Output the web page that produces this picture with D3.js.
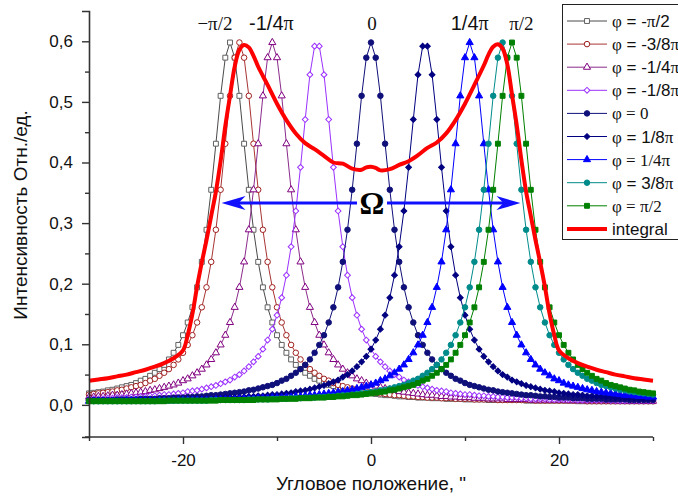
<!DOCTYPE html>
<html><head><meta charset="utf-8">
<script src="https://cdn.jsdelivr.net/npm/d3@7"></script>
<style>body{margin:0;background:#fff}svg{display:block}</style>
</head><body><svg id="c" width="678" height="497"></svg>
<script>
const xs = [-30,-29.5,-29,-28.5,-28,-27.5,-27,-26.5,-26,-25.5,-25,-24.5,-24,-23.5,-23,-22.5,-22,-21.5,-21,-20.5,-20,-19.5,-19,-18.5,-18,-17.5,-17,-16.5,-16,-15.5,-15,-14.5,-14,-13.5,-13,-12.5,-12,-11.5,-11,-10.5,-10,-9.5,-9,-8.5,-8,-7.5,-7,-6.5,-6,-5.5,-5,-4.5,-4,-3.5,-3,-2.5,-2,-1.5,-1,-0.5,0,0.5,1,1.5,2,2.5,3,3.5,4,4.5,5,5.5,6,6.5,7,7.5,8,8.5,9,9.5,10,10.5,11,11.5,12,12.5,13,13.5,14,14.5,15,15.5,16,16.5,17,17.5,18,18.5,19,19.5,20,20.5,21,21.5,22,22.5,23,23.5,24,24.5,25,25.5,26,26.5,27,27.5,28,28.5,29,29.5,30];

const phiM12 = [.019,.020,.021,.022,.024,.025,.027,.029,.031,.033,
.036,.040,.043,.048,.053,.059,.066,.075,.086,.099,
.115,.136,.161,.194,.236,.289,.355,.431,.510,.573,
.598,
.573,.510,.431,.355,.289,.236,.194,.161,.136,.115,
.099,.086,.075,.066,.059,.053,.048,.043,.040,.036,
.033,.031,.029,.027,.025,.024,.022,.021,.020,.019,
.018,.017,.016,.016,.015,.014,.014,.013,.013,.012,
.012,.012,.011,.011,.011,.010,.010,.010,.010,.009,
.009,.009,.009,.009,.008,.008,.008,.008,.008,.008,
.008,.008,.007,.007,.007,.007,.007,.007,.007,.007,
.007,.007,.007,.006,.006,.006,.006,.006,.006,.006,
.006,.006,.006,.006,.006,.006,.006,.006,.006,.006];

const phiM38 = [.017,.018,
.019,.020,.021,.022,.024,.025,.027,.029,.031,.033,
.036,.040,.043,.048,.053,.059,.066,.075,.086,.099,
.115,.136,.161,.194,.236,.289,.355,.431,.510,.573,
.598,
.573,.510,.431,.355,.289,.236,.194,.161,.136,.115,
.099,.086,.075,.066,.059,.053,.048,.043,.040,.036,
.033,.031,.029,.027,.025,.024,.022,.021,.020,.019,
.018,.017,.016,.016,.015,.014,.014,.013,.013,.012,
.012,.012,.011,.011,.011,.010,.010,.010,.010,.009,
.009,.009,.009,.009,.008,.008,.008,.008,.008,.008,
.008,.008,.007,.007,.007,.007,.007,.007,.007,.007,
.007,.007,.007,.006,.006,.006,.006,.006,.006,.006,
.006,.006,.006,.006,.006,.006,.006,.006];

const phiM14 = [.013,.013,.014,.014,.015,.016,.016,.017,.018,
.019,.020,.021,.022,.024,.025,.027,.029,.031,.033,
.036,.040,.043,.048,.053,.059,.066,.075,.086,.099,
.115,.136,.161,.194,.236,.289,.355,.431,.510,.573,
.598,
.573,.510,.431,.355,.289,.236,.194,.161,.136,.115,
.099,.086,.075,.066,.059,.053,.048,.043,.040,.036,
.033,.031,.029,.027,.025,.024,.022,.021,.020,.019,
.018,.017,.016,.016,.015,.014,.014,.013,.013,.012,
.012,.012,.011,.011,.011,.010,.010,.010,.010,.009,
.009,.009,.009,.009,.008,.008,.008,.008,.008,.008,
.008,.008,.007,.007,.007,.007,.007,.007,.007,.007,
.007,.007,.007,.006,.006,.006,.006,.006,.006,.006,
.006];

const phiM18 = [.010,.010,.010,.010,.011,.011,.012,.012,.012,
.013,.013,.014,.014,.015,.015,.016,.017,.017,.018,
.019,.020,.022,.023,.024,.026,.028,.030,.032,.035,
.038,.041,.046,.050,.056,.063,.071,.080,.092,.107,
.125,.148,.177,.214,.261,.320,.392,.471,.545,.592,
.592,.545,.471,.392,.320,.261,.214,.177,.148,.125,
.107,.092,.080,.071,.063,.056,.050,.046,.041,.038,
.035,.032,.030,.028,.026,.024,.023,.022,.020,.019,
.018,.017,.017,.016,.015,.015,.014,.014,.013,.013,
.012,.012,.012,.011,.011,.010,.010,.010,.010,.009,
.009,.009,.009,.009,.009,.008,.008,.008,.008,.008,
.008,.008,.007,.007,.007,.007,.007,.007,.007,.007,
.007,.007];

const phi0 = [.008,.008,.008,.008,.008,.008,.009,.009,.009,.009,
.009,.010,.010,.010,.010,.011,.011,.011,.012,.012,
.012,.013,.013,.014,.014,.015,.016,.016,.017,.018,
.019,.020,.021,.022,.024,.025,.027,.029,.031,.033,
.036,.040,.043,.048,.053,.059,.066,.075,.086,.099,
.115,.136,.161,.194,.236,.289,.355,.431,.510,.573,
.598,
.573,.510,.431,.355,.289,.236,.194,.161,.136,.115,
.099,.086,.075,.066,.059,.053,.048,.043,.040,.036,
.033,.031,.029,.027,.025,.024,.022,.021,.020,.019,
.018,.017,.016,.016,.015,.014,.014,.013,.013,.012,
.012,.012,.011,.011,.011,.010,.010,.010,.010,.009,
.009,.009,.009,.009,.008,.008,.008,.008,.008,.008];

const phiP18 = [.007,.007,
.007,.007,.007,.007,.007,.007,.007,.007,.008,.008,
.008,.008,.008,.008,.008,.009,.009,.009,.009,.009,
.009,.010,.010,.010,.010,.011,.011,.012,.012,.012,
.013,.013,.014,.014,.015,.015,.016,.017,.017,.018,
.019,.020,.022,.023,.024,.026,.028,.030,.032,.035,
.038,.041,.046,.050,.056,.063,.071,.080,.092,.107,
.125,.148,.177,.214,.261,.320,.392,.471,.545,.592,
.592,.545,.471,.392,.320,.261,.214,.177,.148,.125,
.107,.092,.080,.071,.063,.056,.050,.046,.041,.038,
.035,.032,.030,.028,.026,.024,.023,.022,.020,.019,
.018,.017,.017,.016,.015,.015,.014,.014,.013,.013,
.012,.012,.012,.011,.011,.010,.010,.010,.010];

const phiP14 = [.006,
.006,.006,.006,.006,.006,.006,.006,.007,.007,.007,
.007,.007,.007,.007,.007,.007,.007,.007,.008,.008,
.008,.008,.008,.008,.008,.008,.009,.009,.009,.009,
.009,.010,.010,.010,.010,.011,.011,.011,.012,.012,
.012,.013,.013,.014,.014,.015,.016,.016,.017,.018,
.019,.020,.021,.022,.024,.025,.027,.029,.031,.033,
.036,.040,.043,.048,.053,.059,.066,.075,.086,.099,
.115,.136,.161,.194,.236,.289,.355,.431,.510,.573,
.598,
.573,.510,.431,.355,.289,.236,.194,.161,.136,.115,
.099,.086,.075,.066,.059,.053,.048,.043,.040,.036,
.033,.031,.029,.027,.025,.024,.022,.021,.020,.019,
.018,.017,.016,.016,.015,.014,.014,.013,.013];

const phiP38 = [.006,.006,.006,.006,.006,.006,.006,.006,
.006,.006,.006,.006,.006,.006,.006,.007,.007,.007,
.007,.007,.007,.007,.007,.007,.007,.007,.008,.008,
.008,.008,.008,.008,.008,.008,.009,.009,.009,.009,
.009,.010,.010,.010,.010,.011,.011,.011,.012,.012,
.012,.013,.013,.014,.014,.015,.016,.016,.017,.018,
.019,.020,.021,.022,.024,.025,.027,.029,.031,.033,
.036,.040,.043,.048,.053,.059,.066,.075,.086,.099,
.115,.136,.161,.194,.236,.289,.355,.431,.510,.573,
.598,
.573,.510,.431,.355,.289,.236,.194,.161,.136,.115,
.099,.086,.075,.066,.059,.053,.048,.043,.040,.036,
.033,.031,.029,.027,.025,.024,.022,.021,.020,.019,
.018,.017];

const phiP12 = [.006,.006,.006,.006,.006,.006,.006,.006,.006,.006,
.006,.006,.006,.006,.006,.006,.006,.007,.007,.007,
.007,.007,.007,.007,.007,.007,.007,.007,.008,.008,
.008,.008,.008,.008,.008,.008,.009,.009,.009,.009,
.009,.010,.010,.010,.010,.011,.011,.011,.012,.012,
.012,.013,.013,.014,.014,.015,.016,.016,.017,.018,
.019,.020,.021,.022,.024,.025,.027,.029,.031,.033,
.036,.040,.043,.048,.053,.059,.066,.075,.086,.099,
.115,.136,.161,.194,.236,.289,.355,.431,.510,.573,
.598,
.573,.510,.431,.355,.289,.236,.194,.161,.136,.115,
.099,.086,.075,.066,.059,.053,.048,.043,.040,.036,
.033,.031,.029,.027,.025,.024,.022,.021,.020,.019];

const integralX = [-30,-29,-28,-27,-26,-25,-24,-23,-22,-21,-20,-19.5,-19,-18.5,-18,-17.5,-17,-16.5,-16,-15.5,-15,-14.5,-14,-13.5,-13,-12.5,-12,-11,-10,-9,-8,-7,-6,-5,-4,-3,-2,-1,-0.5,0,0.5,1,2,3,4,5,6,7,8,9,10,11,12,12.5,13,13.5,14,14.5,15,15.5,16,16.5,17,17.5,18,18.5,19,19.5,20,21,22,23,24,25,26,27,28,29,30];
const integralY = [0.040,0.042,0.044,0.047,0.050,0.054,0.058,0.063,0.069,0.077,0.090,0.115,0.150,0.195,0.235,0.272,0.312,0.352,0.402,0.460,0.510,0.558,0.586,0.594,0.590,0.576,0.558,0.528,0.497,0.470,0.448,0.432,0.422,0.411,0.400,0.398,0.390,0.388,0.392,0.393,0.391,0.387,0.389,0.396,0.402,0.412,0.424,0.433,0.448,0.470,0.497,0.528,0.560,0.578,0.591,0.595,0.588,0.562,0.512,0.462,0.404,0.352,0.312,0.272,0.235,0.195,0.150,0.115,0.090,0.077,0.069,0.063,0.058,0.054,0.050,0.047,0.044,0.042,0.040];

const seriesLabels = ["φ = -π/2","φ = -3/8π","φ = -1/4π","φ = -1/8π","φ = 0","φ = 1/8π","φ = 1/4π","φ = 3/8π","φ = π/2"];
const seriesSerif = [false,false,false,false,true,false,true,false,true];
const seriesValues = [phiM12, phiM38, phiM14, phiM18, phi0, phiP18, phiP14, phiP38, phiP12];
const integralLabel = "integral";

const xTickValues = [-20, 0, 20];
const xTickLabels = ["-20", "0", "20"];
const xMinorTicks = [-30, -10, 10, 30];
const yTickValues = [0, 0.1, 0.2, 0.3, 0.4, 0.5, 0.6];
const yTickLabels = ["0,0","0,1","0,2","0,3","0,4","0,5","0,6"];
const yMinorTicks = [0.05, 0.15, 0.25, 0.35, 0.45, 0.55];

const peakLabels = ["−π/2", "-1/4π", "0", "1/4π", "π/2"];
const peakLabelAt = [-16.6, -10.6, 0.1, 10.5, 16.0];
const peakLabelSerif = [true, false, true, false, true];

const omegaSpan = [-15.9, 15.9];
const omegaLevel = 0.333;

// ---- styling ----
const colors = ["#4a4a4a","#a83434","#8b2b8b","#9b30ff","#10107a","#000080","#0000ff","#008b8b","#008000"];
const markerColors = ["#606060","#a02020","#800080","#9b30ff","#10107a","#000080","#0000ff","#008b8b","#008000"];
const shapes = ["square","circle","triangle","diamond","circle","diamond","triangle","circle","square"];
const filled = [false,false,false,false,true,true,true,true,true];

const SANS = "'Liberation Sans', Arial, sans-serif";
const SERIF = "'Liberation Serif', 'Times New Roman', serif";

const svg = d3.select("#c");
const x = d3.scaleLinear().domain([-30, 30]).range([89, 653]);
const y = d3.scaleLinear().domain([-0.053, 0.65]).range([437, 11]);

function symbolFor(s) {
  if (s === "square") return d3.symbol().type(d3.symbolSquare).size(24);
  if (s === "circle") return d3.symbol().type(d3.symbolCircle).size(24);
  if (s === "triangle") return d3.symbol().type(d3.symbolTriangle).size(22);
  return d3.symbol().type(d3.symbolSquare).size(17);
}

const plot = svg.append("g");
const line = d3.line().x((d, i) => x(xs[i])).y(d => y(d));

seriesValues.forEach((vals, k) => {
  const g = plot.append("g");
  g.append("path").attr("d", line(vals)).attr("fill", "none")
    .attr("stroke", colors[k]).attr("stroke-width", 1);
  const sym = symbolFor(shapes[k]);
  g.selectAll("path.m").data(vals).enter().append("path").attr("class", "m")
    .attr("d", sym())
    .attr("transform", (d, i) => `translate(${x(xs[i])},${y(d)})` + (shapes[k] === "diamond" ? " rotate(45)" : ""))
    .attr("fill", filled[k] ? markerColors[k] : "#fff")
    .attr("stroke", markerColors[k]).attr("stroke-width", 1);
});

// integral
plot.append("path")
  .attr("d", d3.line().x((d, i) => x(integralX[i])).y(d => y(d)).curve(d3.curveCatmullRom.alpha(0.5))(integralY))
  .attr("fill", "none").attr("stroke", "#ff0000").attr("stroke-width", 4).attr("stroke-linejoin", "round");

// axes
const axColor = "#333";
const gx = svg.append("g").attr("transform", `translate(0,${y.range()[0]})`)
  .call(d3.axisBottom(x).tickValues(xTickValues).tickFormat((d, i) => xTickLabels[i]).tickSize(7).tickPadding(10));
const gxm = svg.append("g").attr("transform", `translate(0,${y.range()[0]})`)
  .call(d3.axisBottom(x).tickValues(xMinorTicks).tickFormat("").tickSize(4));
const gy = svg.append("g").attr("transform", `translate(${x.range()[0]},0)`)
  .call(d3.axisLeft(y).tickValues(yTickValues).tickFormat((d, i) => yTickLabels[i]).tickSize(7).tickPadding(9));
const gym = svg.append("g").attr("transform", `translate(${x.range()[0]},0)`)
  .call(d3.axisLeft(y).tickValues(yMinorTicks).tickFormat("").tickSize(4));
[gx, gxm, gy, gym].forEach(g => {
  g.selectAll("path.domain").attr("stroke", axColor).attr("stroke-width", 1.6);
  g.selectAll(".tick line").attr("stroke", axColor).attr("stroke-width", 1.4);
  g.selectAll("text").attr("font-family", SANS).attr("font-size", 17).attr("fill", "#111");
});
gxm.select("path.domain").remove();
gym.select("path.domain").remove();
gx.select("path.domain").attr("d", `M${x.range()[0]-4},0H${x.range()[1]}`);

svg.append("text").attr("x", 371).attr("y", 490).attr("text-anchor", "middle")
  .attr("font-family", SANS).attr("font-size", 19).attr("fill", "#111").text("Угловое положение, \"");
svg.append("text").attr("transform", "translate(27,215) rotate(-90)").attr("text-anchor", "middle")
  .attr("font-family", SANS).attr("font-size", 19).attr("fill", "#111").text("Интенсивность Отн./ед.");

// mixed-font text helper
function mixed(textSel, str, allSerif) {
  const groups = [];
  for (const ch of str) {
    const f = (allSerif || ch === "φ" || ch === "π" || ch === "−") ? SERIF : SANS;
    if (groups.length && groups[groups.length - 1].f === f) groups[groups.length - 1].t += ch;
    else groups.push({ f, t: ch });
  }
  groups.forEach(g => textSel.append("tspan").attr("font-family", g.f).text(g.t));
}

// peak labels
peakLabels.forEach((lab, i) => {
  const t = svg.append("text").attr("x", x(peakLabelAt[i])).attr("y", 30)
    .attr("text-anchor", "middle").attr("font-size", peakLabelSerif[i] ? 19 : 20).attr("fill", "#111");
  mixed(t, lab, peakLabelSerif[i]);
});

// Omega arrow
const oy = y(omegaLevel);
const ox1 = x(omegaSpan[0]), ox2 = x(omegaSpan[1]);
const blue = "#1010ff";
svg.append("line").attr("x1", ox1 + 10).attr("x2", 357).attr("y1", oy).attr("y2", oy).attr("stroke", blue).attr("stroke-width", 3);
svg.append("line").attr("x1", 387).attr("x2", ox2 - 10).attr("y1", oy).attr("y2", oy).attr("stroke", blue).attr("stroke-width", 3);
svg.append("path").attr("d", `M${ox1},${oy}L${ox1+24},${oy-7}L${ox1+17},${oy}L${ox1+24},${oy+7}Z`).attr("fill", blue);
svg.append("path").attr("d", `M${ox2},${oy}L${ox2-24},${oy-7}L${ox2-17},${oy}L${ox2-24},${oy+7}Z`).attr("fill", blue);
svg.append("text").attr("x", 372).attr("y", oy + 11).attr("text-anchor", "middle")
  .attr("font-family", SERIF).attr("font-weight", "bold").attr("font-size", 31).attr("fill", "#000").text("Ω");

// legend
const lg = svg.append("g");
lg.append("rect").attr("x", 562.5).attr("y", 4.5).attr("width", 130).attr("height", 235)
  .attr("fill", "#fff").attr("stroke", "#222").attr("stroke-width", 1);
const rowY = i => 21 + i * 23.1;
seriesLabels.forEach((lab, k) => {
  const yy = rowY(k);
  lg.append("line").attr("x1", 567).attr("x2", 607).attr("y1", yy).attr("y2", yy)
    .attr("stroke", colors[k]).attr("stroke-width", 1);
  lg.append("path").attr("d", symbolFor(shapes[k])())
    .attr("transform", `translate(587,${yy})` + (shapes[k] === "diamond" ? " rotate(45)" : ""))
    .attr("fill", filled[k] ? markerColors[k] : "#fff").attr("stroke", markerColors[k]);
  const t = lg.append("text").attr("x", 612).attr("y", yy + 6).attr("font-size", 17).attr("fill", "#111");
  mixed(t, lab, seriesSerif[k]);
});
const iy = rowY(9);
lg.append("line").attr("x1", 567).attr("x2", 607).attr("y1", iy).attr("y2", iy).attr("stroke", "#ff0000").attr("stroke-width", 4);
lg.append("text").attr("x", 612).attr("y", iy + 6).attr("font-size", 17).attr("font-family", SANS).attr("fill", "#111").text(integralLabel);
</script>
</body></html>
